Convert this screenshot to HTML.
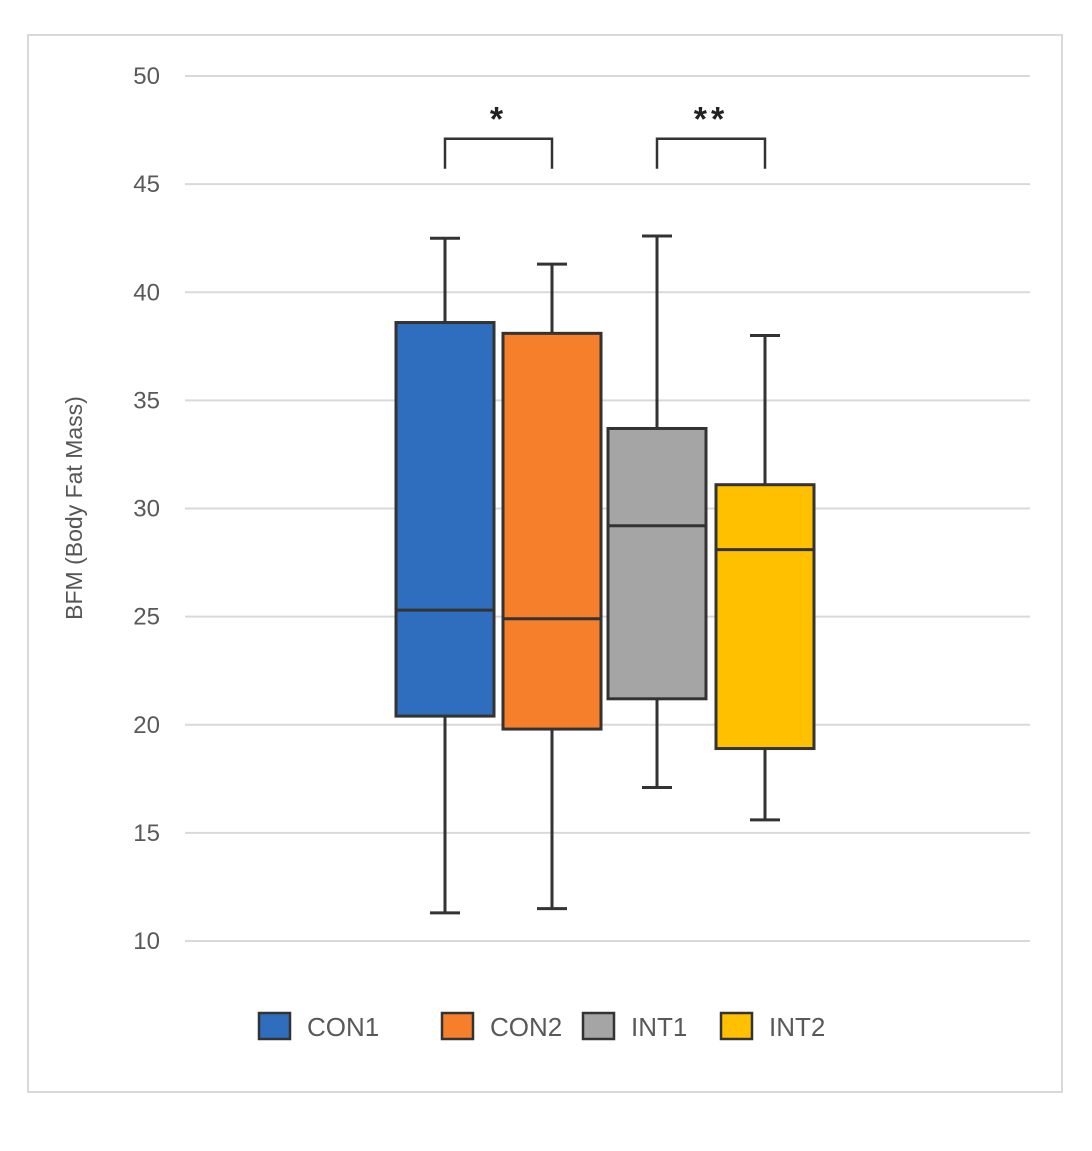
<!DOCTYPE html>
<html><head><meta charset="utf-8"><style>
html,body{margin:0;padding:0;background:#fff;}
svg{display:block;font-family:"Liberation Sans",sans-serif;}
</style></head><body>
<svg id="chart" width="1092" height="1151" viewBox="0 0 1092 1151">
<rect x="28" y="35" width="1034" height="1057" fill="#fff" stroke="#d9d9d9" stroke-width="2"/>
<g id="grid"></g>
<g id="yticks"></g>
<text x="82" y="508" transform="rotate(-90 82 508)" text-anchor="middle" font-size="23" fill="#555">BFM (Body Fat Mass)</text>
<g id="boxes"></g>
<g id="sig"></g>
<g id="legend"></g>
</svg>
<script>
const categories=["CON1","CON2","INT1","INT2"];
const colors=["#2f6ebf","#f57f2a","#a5a5a5","#ffc000"];
const mins=[11.3,11.5,17.1,15.6];
const q1s=[20.4,19.8,21.2,18.9];
const medians=[25.3,24.9,29.2,28.1];
const q3s=[38.6,38.1,33.7,31.1];
const maxs=[42.5,41.3,42.6,38.0];
const yTicks=[10,15,20,25,30,35,40,45,50];
const sigPairs=[[0,1,"*"],[2,3,"**"]];
const sigLevel=47.1;

const NS="http://www.w3.org/2000/svg";
const X0=185,X1=1030,Y0=941,YT=76;
function y(v){return Y0-(v-10)*(Y0-YT)/40;}
const centers=[445,552,657,765];
function cx(i){return centers[i];}
const BW=98;
function mk(tag,attrs,parent){const e=document.createElementNS(NS,tag);for(const k in attrs)e.setAttribute(k,attrs[k]);parent.appendChild(e);return e;}
const grid=document.getElementById('grid'),yt=document.getElementById('yticks');
yTicks.forEach(t=>{
 const l=mk('line',{x1:X0,x2:X1,y1:y(t),y2:y(t),stroke:'#d9d9d9','stroke-width':2},grid);
 
 
 const tx=mk('text',{x:160,y:y(t)+8,'text-anchor':'end','font-size':24,fill:'#595959'},yt);
 tx.textContent=t;
 
 
});
const boxes=document.getElementById('boxes');
categories.forEach((c,i)=>{
 const g=mk('g',{},boxes);
 
 
 const st={stroke:'#333','stroke-width':3};
 mk('line',Object.assign({x1:cx(i),x2:cx(i),y1:y(maxs[i]),y2:y(q3s[i])},st),g);
 mk('line',Object.assign({x1:cx(i),x2:cx(i),y1:y(q1s[i]),y2:y(mins[i])},st),g);
 mk('line',Object.assign({x1:cx(i)-15,x2:cx(i)+15,y1:y(maxs[i]),y2:y(maxs[i])},st),g);
 mk('line',Object.assign({x1:cx(i)-15,x2:cx(i)+15,y1:y(mins[i]),y2:y(mins[i])},st),g);
 mk('rect',Object.assign({x:cx(i)-BW/2,y:y(q3s[i]),width:BW,height:y(q1s[i])-y(q3s[i]),fill:colors[i]},st),g);
 mk('line',Object.assign({x1:cx(i)-BW/2,x2:cx(i)+BW/2,y1:y(medians[i]),y2:y(medians[i])},st),g);
});
const sig=document.getElementById('sig');
sigPairs.forEach(p=>{
 const a=cx(p[0]),b=cx(p[1]),yy=y(sigLevel);
 const pl=mk('polyline',{points:`${a},${yy+30} ${a},${yy} ${b},${yy} ${b},${yy+30}`,fill:'none',stroke:'#333','stroke-width':2.5},sig);
 
 
 const t=mk('text',{x:(a+b)/2,y:yy-8,'text-anchor':'middle','font-size':34,'font-weight':'bold',fill:'#222','letter-spacing':4},sig);
 t.textContent=p[2];
 
 
});
const leg=document.getElementById('legend');
const lx=[259,442,583,721];
categories.forEach((c,i)=>{
 const g=mk('g',{},leg);
 
 
 mk('rect',{x:lx[i],y:1013,width:31,height:26,fill:colors[i],stroke:'#333','stroke-width':2.5},g);
 const t=mk('text',{x:lx[i]+48,y:1036,'font-size':26,fill:'#595959'},g);
 t.textContent=c;
});
</script>
</body></html>
